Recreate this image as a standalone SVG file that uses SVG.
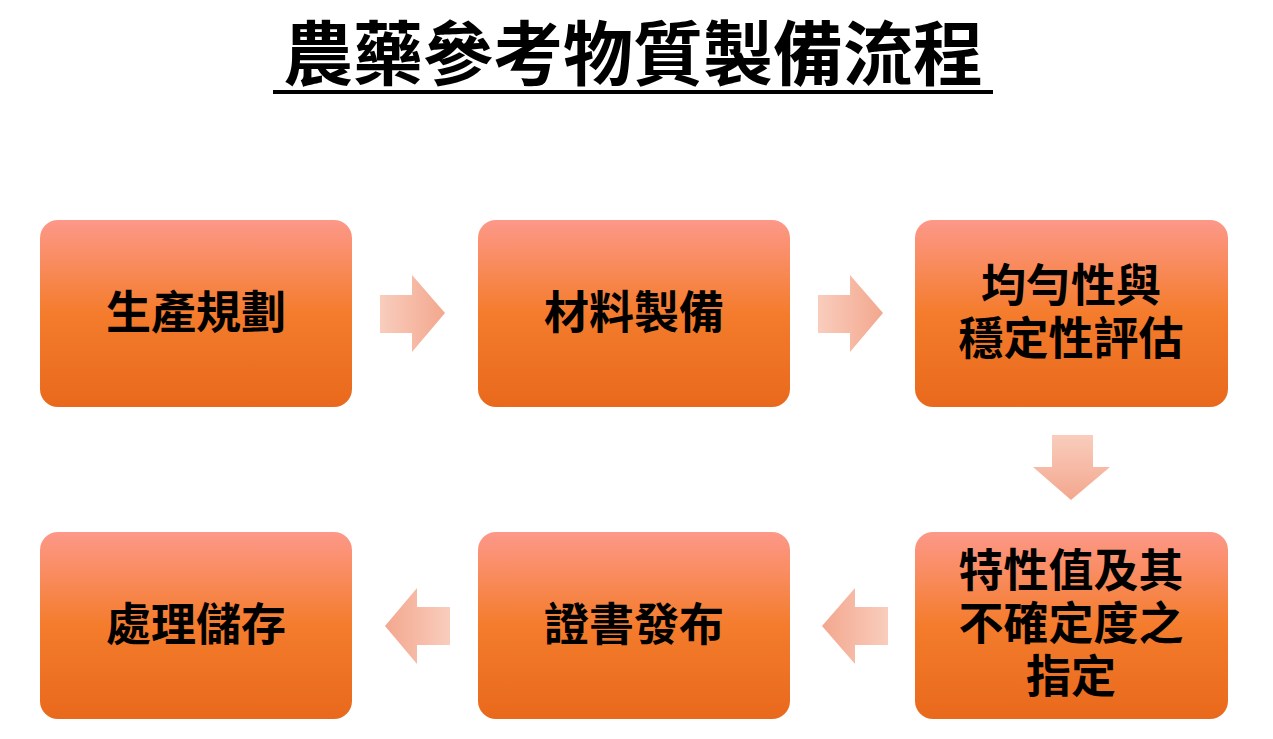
<svg xmlns="http://www.w3.org/2000/svg" width="1273" height="739" viewBox="0 0 1273 739">
<defs>
<linearGradient id="bg" x1="0" y1="0" x2="0" y2="1"><stop offset="0" stop-color="#fd9889"/><stop offset="0.5" stop-color="#f47c2c"/><stop offset="1" stop-color="#e9691c"/></linearGradient>
<linearGradient id="ah" x1="0" y1="0" x2="1" y2="0"><stop offset="0" stop-color="#f9cdbd"/><stop offset="1" stop-color="#f3a78e"/></linearGradient>
<linearGradient id="av" x1="0" y1="0" x2="0" y2="1"><stop offset="0" stop-color="#f9cdbd"/><stop offset="1" stop-color="#f3a78e"/></linearGradient>
<linearGradient id="al" x1="1" y1="0" x2="0" y2="0"><stop offset="0" stop-color="#f9cdbd"/><stop offset="1" stop-color="#f3a78e"/></linearGradient>
</defs>
<style>
.b{fill:url(#bg)}
.t{font-family:"Noto Sans CJK TC","Noto Sans CJK SC",sans-serif;font-weight:bold;font-size:45px;fill:#000;text-anchor:middle}
</style>
<rect width="1273" height="739" fill="#fff"/>
<text x="633" y="80" font-family="Noto Sans CJK TC,sans-serif" font-weight="bold" font-size="70" text-anchor="middle">農藥參考物質製備流程</text>
<rect x="273" y="90" width="720" height="4" fill="#000"/>
<g id="n1"><rect class="b" x="40" y="220" width="312" height="187" rx="18"/><text class="t" x="196" y="329">生產規劃</text></g>
<g id="n2"><rect class="b" x="478" y="220" width="312" height="187" rx="18"/><text class="t" x="634" y="329">材料製備</text></g>
<g id="n3"><rect class="b" x="915" y="220" width="313" height="187" rx="18"/><text class="t" x="1071" y="302">均勻性與</text><text class="t" x="1071" y="355">穩定性評估</text></g>
<g id="n4"><rect class="b" x="915" y="532" width="313" height="187" rx="18"/><text class="t" x="1071" y="587">特性值及其</text><text class="t" x="1071" y="640">不確定度之</text><text class="t" x="1071" y="693">指定</text></g>
<g id="n5"><rect class="b" x="478" y="532" width="312" height="187" rx="18"/><text class="t" x="634" y="641">證書發布</text></g>
<g id="n6"><rect class="b" x="40" y="532" width="312" height="187" rx="18"/><text class="t" x="196" y="641">處理儲存</text></g>
<g id="connectors">
<polygon fill="url(#ah)" points="380,295 412,295 412,275 445,313 412,352 412,333 380,333"/>
<polygon fill="url(#ah)" points="818,295 850,295 850,275 883,313 850,352 850,333 818,333"/>
<polygon fill="url(#av)" points="1052,435 1093,435 1093,467 1110,467 1071,500 1033,467 1052,467"/>
<polygon fill="url(#al)" points="888,607 855,607 855,588 822,626 855,664 855,645 888,645"/>
<polygon fill="url(#al)" points="450,607 417,607 417,588 385,626 417,664 417,645 450,645"/>
</g>
</svg>
